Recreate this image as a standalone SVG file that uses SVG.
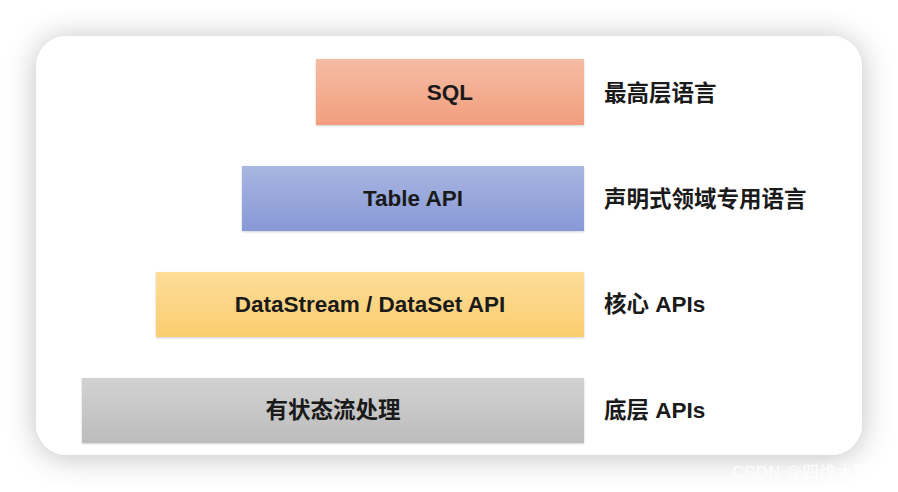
<svg xmlns="http://www.w3.org/2000/svg" width="898" height="492" viewBox="0 0 898 492">
  <defs>
    <filter id="cardShadow" x="-20%" y="-30%" width="140%" height="160%">
      <feGaussianBlur in="SourceAlpha" stdDeviation="15"/>
      <feOffset dx="0" dy="2" result="b"/>
      <feFlood flood-color="#000" flood-opacity="0.25"/>
      <feComposite in2="b" operator="in"/>
      <feMerge><feMergeNode/><feMergeNode in="SourceGraphic"/></feMerge>
    </filter>
    <filter id="boxShadow" x="-5%" y="-20%" width="110%" height="140%">
      <feGaussianBlur in="SourceAlpha" stdDeviation="1.2"/>
      <feOffset dx="0" dy="1" result="b"/>
      <feFlood flood-color="#000" flood-opacity="0.18"/>
      <feComposite in2="b" operator="in"/>
      <feMerge><feMergeNode/><feMergeNode in="SourceGraphic"/></feMerge>
    </filter>
    <linearGradient id="gSql" x1="0" y1="0" x2="0" y2="1">
      <stop offset="0" stop-color="#f5bca4"/>
      <stop offset="1" stop-color="#f29e7e"/>
    </linearGradient>
    <linearGradient id="gTable" x1="0" y1="0" x2="0" y2="1">
      <stop offset="0" stop-color="#a9b6e1"/>
      <stop offset="1" stop-color="#8799d6"/>
    </linearGradient>
    <linearGradient id="gData" x1="0" y1="0" x2="0" y2="1">
      <stop offset="0" stop-color="#fddd98"/>
      <stop offset="1" stop-color="#fbcd70"/>
    </linearGradient>
    <linearGradient id="gState" x1="0" y1="0" x2="0" y2="1">
      <stop offset="0" stop-color="#d2d2d2"/>
      <stop offset="1" stop-color="#bcbcbc"/>
    </linearGradient>
  </defs>
  <style>
    .box { filter: url(#boxShadow); }
    .in { font-family: "Liberation Sans", "Noto Sans CJK SC", Arial, sans-serif; font-weight: bold; font-size: 22.5px; fill: #1a1a1a; text-anchor: middle; dominant-baseline: central; }
    .side { font-family: "Liberation Sans", "Noto Sans CJK SC", Arial, sans-serif; font-weight: bold; font-size: 22.5px; fill: #1a1a1a; dominant-baseline: central; }
    .wm { font-family: "Liberation Sans", "Noto Sans CJK SC", Arial, sans-serif; font-size: 17px; fill: #ffffff; fill-opacity: 0.9; }
  </style>
  <rect width="898" height="492" fill="#ffffff"/>
  <rect x="36" y="36" width="826" height="419" rx="31" ry="31" fill="#ffffff" filter="url(#cardShadow)"/>

  <g id="sql">
    <rect class="box" x="316" y="59" width="268" height="66" fill="url(#gSql)"/>
    <text class="in" x="450" y="92">SQL</text>
  </g>
  <g id="sql-label">
    <text class="side" x="604" y="93">最高层语言</text>
  </g>

  <g id="table-api">
    <rect class="box" x="242" y="166" width="342" height="65" fill="url(#gTable)"/>
    <text class="in" x="413" y="198">Table API</text>
  </g>
  <g id="table-label">
    <text class="side" x="604" y="199">声明式领域专用语言</text>
  </g>

  <g id="datastream">
    <rect class="box" x="156" y="272" width="428" height="65" fill="url(#gData)"/>
    <text class="in" x="370" y="304">DataStream / DataSet API</text>
  </g>
  <g id="datastream-label">
    <text class="side" x="604" y="304">核心 APIs</text>
  </g>

  <g id="stateful">
    <rect class="box" x="82" y="378" width="502" height="65" fill="url(#gState)"/>
    <text class="in" x="333" y="410">有状态流处理</text>
  </g>
  <g id="stateful-label">
    <text class="side" x="604" y="410">底层 APIs</text>
  </g>

  <g id="connectors"></g>

  <text class="wm" x="732" y="478">CSDN @四维大脑</text>
</svg>
